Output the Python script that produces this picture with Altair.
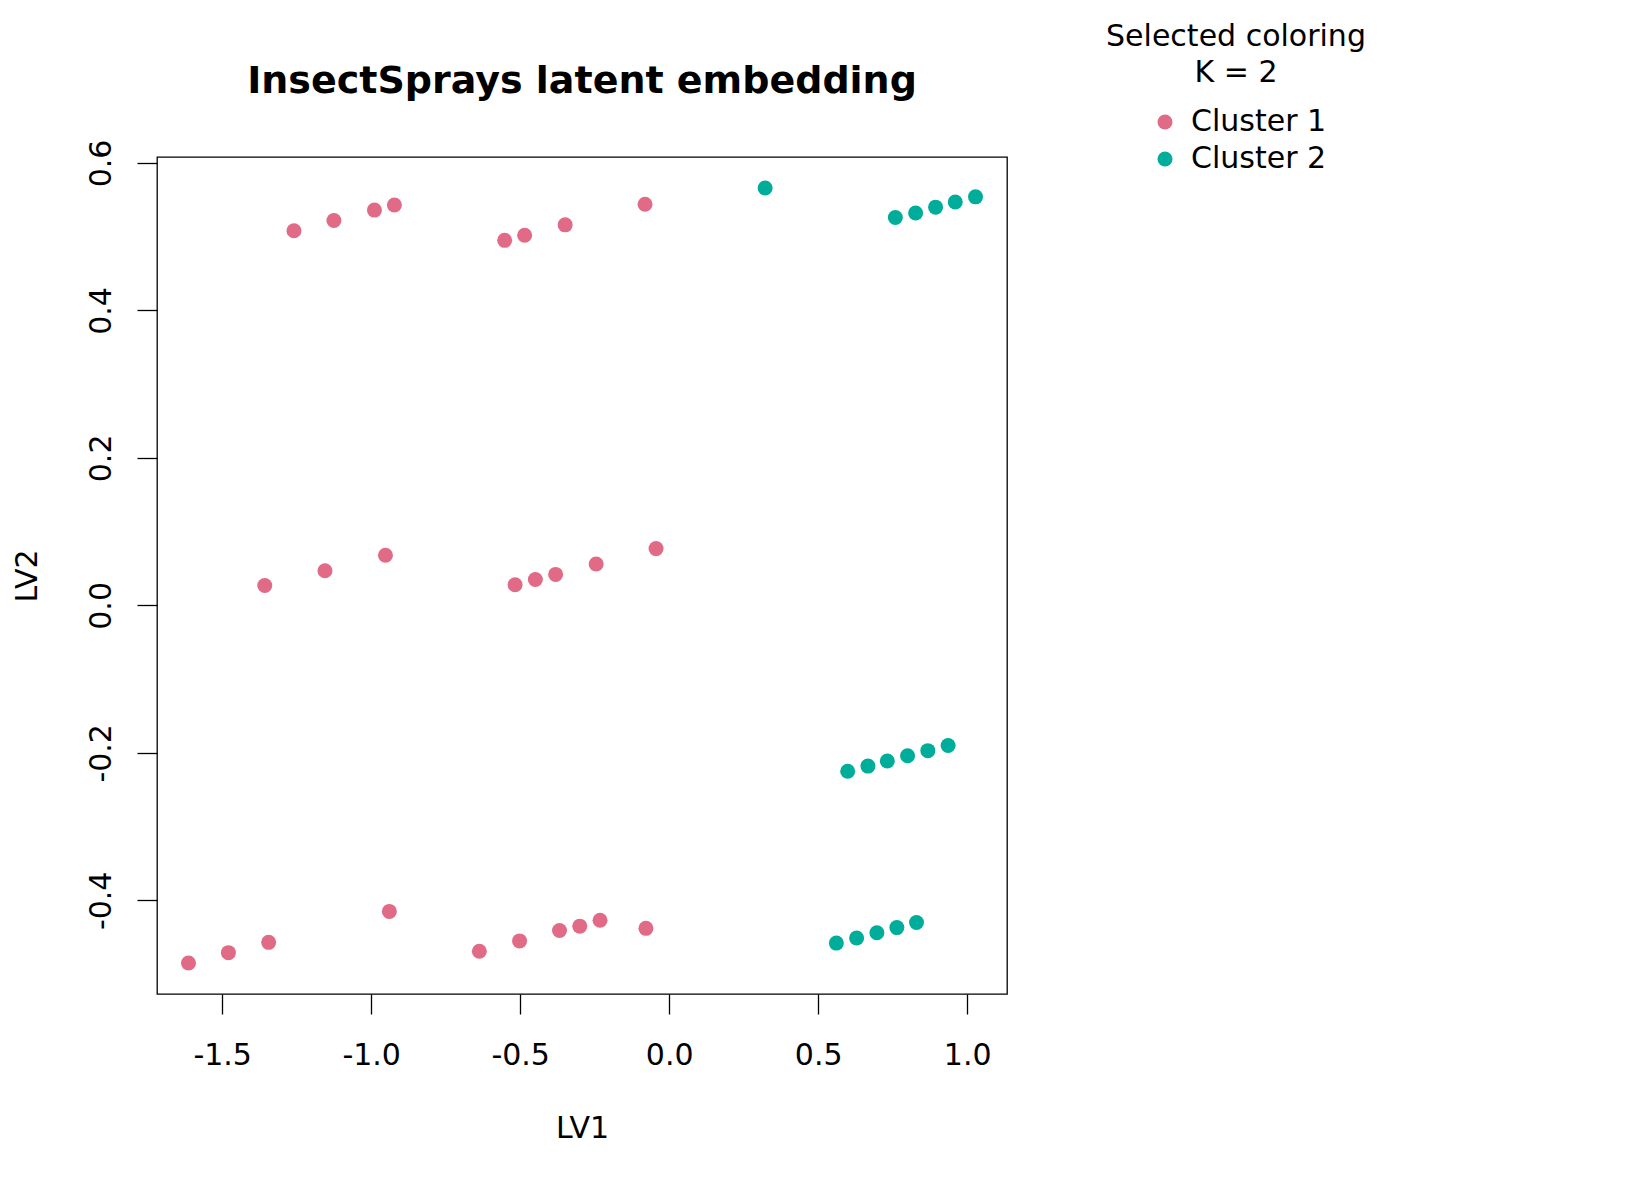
import altair as alt
import pandas as pd

# Latent variable 1 (x) and 2 (y), with cluster labels
lv1 = [-1.259, -1.125, -0.989, -0.922, -0.552, -0.485, -0.349, -0.081,
       0.322, 0.759, 0.827, 0.894, 0.960, 1.028,
       -1.357, -1.155, -0.952, -0.517, -0.449, -0.381, -0.245, -0.044,
       0.599, 0.667, 0.732, 0.800, 0.868, 0.936,
       -1.613, -1.479, -1.344, -0.939, -0.637, -0.502, -0.368, -0.300, -0.232, -0.078,
       0.561, 0.629, 0.697, 0.764, 0.830]
lv2 = [0.508, 0.522, 0.536, 0.543, 0.495, 0.502, 0.516, 0.544,
       0.566, 0.526, 0.532, 0.540, 0.547, 0.554,
       0.027, 0.047, 0.068, 0.028, 0.035, 0.042, 0.056, 0.077,
       -0.225, -0.218, -0.211, -0.204, -0.197, -0.190,
       -0.485, -0.471, -0.457, -0.415, -0.469, -0.455, -0.441, -0.435, -0.427, -0.438,
       -0.458, -0.451, -0.444, -0.437, -0.430]
cluster = (["Cluster 1"] * 8 + ["Cluster 2"] * 6 + ["Cluster 1"] * 8 + ["Cluster 2"] * 6
           + ["Cluster 1"] * 10 + ["Cluster 2"] * 5)

x_ticks = [-1.5, -1.0, -0.5, 0.0, 0.5, 1.0]
y_ticks = [-0.4, -0.2, 0.0, 0.2, 0.4, 0.6]
cluster_names = ["Cluster 1", "Cluster 2"]
cluster_colors = ["#E16A86", "#00AD9A"]
title_text = ["InsectSprays latent embedding"]

df = pd.DataFrame({"LV1": lv1, "LV2": lv2, "cluster": cluster})
title_df = pd.DataFrame({"t": title_text})

# R-style 4% axis extension
xr = max(lv1) - min(lv1)
yr = max(lv2) - min(lv2)
x_dom = [min(lv1) - 0.04 * xr, max(lv1) + 0.04 * xr]
y_dom = [min(lv2) - 0.04 * yr, max(lv2) + 0.04 * yr]

FONT = "DejaVu Sans"
FS = 30
lab_expr = "(datum.value < 0 ? '-' : '') + format(abs(datum.value), '.1f')"

W, H = 850, 837

points = alt.Chart(df).mark_circle(size=225, opacity=1).encode(
    x=alt.X("LV1:Q", scale=alt.Scale(domain=x_dom, nice=False, zero=False),
            axis=alt.Axis(values=x_ticks, labelExpr=lab_expr, grid=False, domain=False,
                          tickSize=20, tickColor="black", tickWidth=1.3,
                          labelFontSize=FS, labelFont=FONT, labelColor="black",
                          labelBaseline="alphabetic", labelPadding=50,
                          title="LV1", titleFontSize=FS, titleFont=FONT,
                          titleFontWeight="normal", titleColor="black",
                          titleBaseline="middle", titleY=134)),
    y=alt.Y("LV2:Q", scale=alt.Scale(domain=y_dom, nice=False, zero=False),
            axis=alt.Axis(values=y_ticks, labelExpr=lab_expr, grid=False, domain=False,
                          tickSize=20, tickColor="black", tickWidth=1.3,
                          labelFontSize=FS, labelFont=FONT, labelColor="black",
                          labelAngle=270, labelAlign="center", labelBaseline="alphabetic",
                          labelPadding=27,
                          title="LV2", titleFontSize=FS, titleFont=FONT,
                          titleFontWeight="normal", titleColor="black",
                          titleAngle=270, titleBaseline="middle", titleX=-130)),
    color=alt.Color("cluster:N",
                    scale=alt.Scale(domain=cluster_names, range=cluster_colors),
                    legend=alt.Legend(title=["Selected coloring", "K = 2"],
                                      orient="none", legendX=949, legendY=-135,
                                      titleAlign="center", titleAnchor="middle",
                                      titleLimit=500,
                                      titleFontSize=FS, titleFont=FONT,
                                      titleFontWeight="normal", titleColor="black",
                                      titleLineHeight=36, titlePadding=19,
                                      labelFontSize=FS, labelFont=FONT, labelColor="black",
                                      symbolType="circle", symbolSize=225,
                                      symbolOffset=4, labelOffset=11,
                                      rowPadding=7, symbolStrokeWidth=0)),
)

title = alt.Chart(title_df).mark_text(
    font=FONT, fontSize=38, fontWeight="bold", color="black",
    align="center", baseline="middle"
).encode(
    x=alt.value(W / 2),
    y=alt.value(-75),
    text="t:N",
)

chart = alt.layer(points, title).properties(
    width=W,
    height=H,
    autosize=alt.AutoSizeParams(type="none"),
    padding={"left": 149, "top": 149, "right": 600, "bottom": 180},
    background="white",
).configure_view(
    stroke="black", strokeWidth=1.3
)

chart.save("out.html", embed_options={"renderer": "svg", "actions": False})
